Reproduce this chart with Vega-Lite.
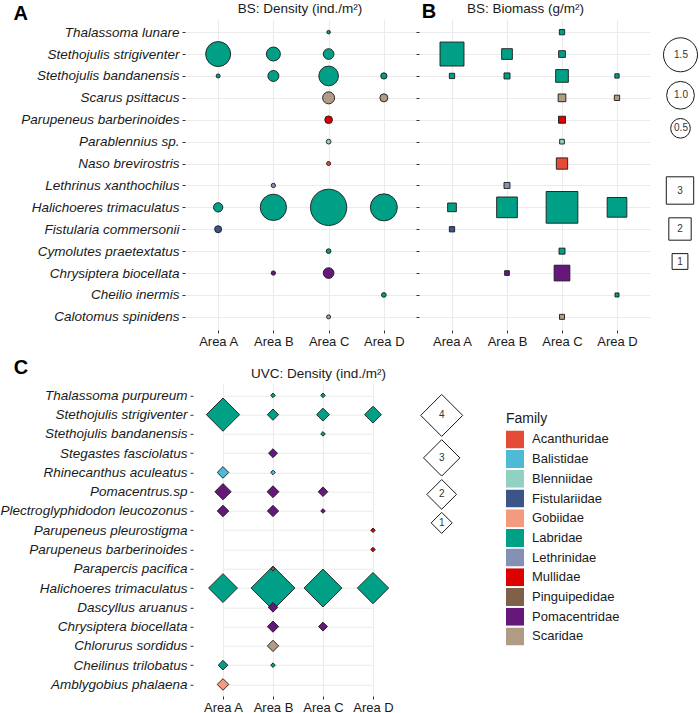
{
  "$schema": "https://vega.github.io/schema/vega-lite/v6.json",
  "padding": {"left": 0, "top": 1, "right": 0, "bottom": 0},
  "datasets": {
    "bsDensity": [
      {"Species": "Thalassoma lunare", "Area": "Area C", "Family": "Labridae", "Value": 0.016},
      {"Species": "Stethojulis strigiventer", "Area": "Area A", "Family": "Labridae", "Value": 0.81},
      {"Species": "Stethojulis strigiventer", "Area": "Area B", "Family": "Labridae", "Value": 0.254},
      {"Species": "Stethojulis strigiventer", "Area": "Area C", "Family": "Labridae", "Value": 0.148},
      {"Species": "Stethojulis bandanensis", "Area": "Area A", "Family": "Labridae", "Value": 0.021},
      {"Species": "Stethojulis bandanensis", "Area": "Area B", "Family": "Labridae", "Value": 0.157},
      {"Species": "Stethojulis bandanensis", "Area": "Area C", "Family": "Labridae", "Value": 0.503},
      {"Species": "Stethojulis bandanensis", "Area": "Area D", "Family": "Labridae", "Value": 0.051},
      {"Species": "Scarus psittacus", "Area": "Area C", "Family": "Scaridae", "Value": 0.187},
      {"Species": "Scarus psittacus", "Area": "Area D", "Family": "Scaridae", "Value": 0.083},
      {"Species": "Parupeneus barberinoides", "Area": "Area C", "Family": "Mullidae", "Value": 0.077},
      {"Species": "Parablennius sp.", "Area": "Area C", "Family": "Blenniidae", "Value": 0.029},
      {"Species": "Naso brevirostris", "Area": "Area C", "Family": "Acanthuridae", "Value": 0.021},
      {"Species": "Lethrinus xanthochilus", "Area": "Area B", "Family": "Lethrinidae", "Value": 0.024},
      {"Species": "Halichoeres trimaculatus", "Area": "Area A", "Family": "Labridae", "Value": 0.112},
      {"Species": "Halichoeres trimaculatus", "Area": "Area B", "Family": "Labridae", "Value": 0.897},
      {"Species": "Halichoeres trimaculatus", "Area": "Area C", "Family": "Labridae", "Value": 1.709},
      {"Species": "Halichoeres trimaculatus", "Area": "Area D", "Family": "Labridae", "Value": 0.945},
      {"Species": "Fistularia commersonii", "Area": "Area A", "Family": "Fistulariidae", "Value": 0.064},
      {"Species": "Cymolutes praetextatus", "Area": "Area C", "Family": "Labridae", "Value": 0.029},
      {"Species": "Chrysiptera biocellata", "Area": "Area B", "Family": "Pomacentridae", "Value": 0.024},
      {"Species": "Chrysiptera biocellata", "Area": "Area C", "Family": "Pomacentridae", "Value": 0.148},
      {"Species": "Cheilio inermis", "Area": "Area D", "Family": "Labridae", "Value": 0.029},
      {"Species": "Calotomus spinidens", "Area": "Area C", "Family": "Scaridae", "Value": 0.021}
    ],
    "bsBiomass": [
      {"Species": "Thalassoma lunare", "Area": "Area C", "Family": "Labridae", "Value": 0.112},
      {"Species": "Stethojulis strigiventer", "Area": "Area A", "Family": "Labridae", "Value": 2.3},
      {"Species": "Stethojulis strigiventer", "Area": "Area B", "Family": "Labridae", "Value": 0.458},
      {"Species": "Stethojulis strigiventer", "Area": "Area C", "Family": "Labridae", "Value": 0.18},
      {"Species": "Stethojulis bandanensis", "Area": "Area A", "Family": "Labridae", "Value": 0.112},
      {"Species": "Stethojulis bandanensis", "Area": "Area B", "Family": "Labridae", "Value": 0.144},
      {"Species": "Stethojulis bandanensis", "Area": "Area C", "Family": "Labridae", "Value": 0.645},
      {"Species": "Stethojulis bandanensis", "Area": "Area D", "Family": "Labridae", "Value": 0.074},
      {"Species": "Scarus psittacus", "Area": "Area C", "Family": "Scaridae", "Value": 0.237},
      {"Species": "Scarus psittacus", "Area": "Area D", "Family": "Scaridae", "Value": 0.112},
      {"Species": "Parupeneus barberinoides", "Area": "Area C", "Family": "Mullidae", "Value": 0.196},
      {"Species": "Parablennius sp.", "Area": "Area C", "Family": "Blenniidae", "Value": 0.088},
      {"Species": "Naso brevirostris", "Area": "Area C", "Family": "Acanthuridae", "Value": 0.51},
      {"Species": "Lethrinus xanthochilus", "Area": "Area B", "Family": "Lethrinidae", "Value": 0.144},
      {"Species": "Halichoeres trimaculatus", "Area": "Area A", "Family": "Labridae", "Value": 0.303},
      {"Species": "Halichoeres trimaculatus", "Area": "Area B", "Family": "Labridae", "Value": 1.71},
      {"Species": "Halichoeres trimaculatus", "Area": "Area C", "Family": "Labridae", "Value": 4.02},
      {"Species": "Halichoeres trimaculatus", "Area": "Area D", "Family": "Labridae", "Value": 1.55},
      {"Species": "Fistularia commersonii", "Area": "Area A", "Family": "Fistulariidae", "Value": 0.112},
      {"Species": "Cymolutes praetextatus", "Area": "Area C", "Family": "Labridae", "Value": 0.144},
      {"Species": "Chrysiptera biocellata", "Area": "Area B", "Family": "Pomacentridae", "Value": 0.088},
      {"Species": "Chrysiptera biocellata", "Area": "Area C", "Family": "Pomacentridae", "Value": 0.986},
      {"Species": "Cheilio inermis", "Area": "Area D", "Family": "Labridae", "Value": 0.064},
      {"Species": "Calotomus spinidens", "Area": "Area C", "Family": "Scaridae", "Value": 0.1}
    ],
    "uvcDensity": [
      {"Species": "Thalassoma purpureum", "Area": "Area B", "Family": "Labridae", "Value": 0.048},
      {"Species": "Thalassoma purpureum", "Area": "Area C", "Family": "Labridae", "Value": 0.048},
      {"Species": "Stethojulis strigiventer", "Area": "Area A", "Family": "Labridae", "Value": 2.51},
      {"Species": "Stethojulis strigiventer", "Area": "Area B", "Family": "Labridae", "Value": 0.29},
      {"Species": "Stethojulis strigiventer", "Area": "Area C", "Family": "Labridae", "Value": 0.377},
      {"Species": "Stethojulis strigiventer", "Area": "Area D", "Family": "Labridae", "Value": 0.648},
      {"Species": "Stethojulis bandanensis", "Area": "Area C", "Family": "Labridae", "Value": 0.048},
      {"Species": "Stegastes fasciolatus", "Area": "Area B", "Family": "Pomacentridae", "Value": 0.18},
      {"Species": "Rhinecanthus aculeatus", "Area": "Area A", "Family": "Balistidae", "Value": 0.305},
      {"Species": "Rhinecanthus aculeatus", "Area": "Area B", "Family": "Balistidae", "Value": 0.048},
      {"Species": "Pomacentrus.sp", "Area": "Area A", "Family": "Pomacentridae", "Value": 0.6},
      {"Species": "Pomacentrus.sp", "Area": "Area B", "Family": "Pomacentridae", "Value": 0.321},
      {"Species": "Pomacentrus.sp", "Area": "Area C", "Family": "Pomacentridae", "Value": 0.209},
      {"Species": "Plectroglyphidodon leucozonus", "Area": "Area A", "Family": "Pomacentridae", "Value": 0.305},
      {"Species": "Plectroglyphidodon leucozonus", "Area": "Area B", "Family": "Pomacentridae", "Value": 0.29},
      {"Species": "Plectroglyphidodon leucozonus", "Area": "Area C", "Family": "Pomacentridae", "Value": 0.048},
      {"Species": "Parupeneus pleurostigma", "Area": "Area D", "Family": "Mullidae", "Value": 0.048},
      {"Species": "Parupeneus barberinoides", "Area": "Area D", "Family": "Mullidae", "Value": 0.048},
      {"Species": "Parapercis pacifica", "Area": "Area B", "Family": "Pinguipedidae", "Value": 0.048},
      {"Species": "Halichoeres trimaculatus", "Area": "Area A", "Family": "Labridae", "Value": 1.89},
      {"Species": "Halichoeres trimaculatus", "Area": "Area B", "Family": "Labridae", "Value": 4.37},
      {"Species": "Halichoeres trimaculatus", "Area": "Area C", "Family": "Labridae", "Value": 3.26},
      {"Species": "Halichoeres trimaculatus", "Area": "Area D", "Family": "Labridae", "Value": 2.22},
      {"Species": "Dascyllus aruanus", "Area": "Area B", "Family": "Pomacentridae", "Value": 0.209},
      {"Species": "Chrysiptera biocellata", "Area": "Area B", "Family": "Pomacentridae", "Value": 0.29},
      {"Species": "Chrysiptera biocellata", "Area": "Area C", "Family": "Pomacentridae", "Value": 0.18},
      {"Species": "Chlorurus sordidus", "Area": "Area B", "Family": "Scaridae", "Value": 0.29},
      {"Species": "Cheilinus trilobatus", "Area": "Area A", "Family": "Labridae", "Value": 0.209},
      {"Species": "Cheilinus trilobatus", "Area": "Area B", "Family": "Labridae", "Value": 0.048},
      {"Species": "Amblygobius phalaena", "Area": "Area A", "Family": "Gobiidae", "Value": 0.305}
    ]
  },
  "columns": 2,
  "align": "each",
  "center": true,
  "bounds": "flush",
  "spacing": {"row": 53.8, "column": 2},
  "resolve": {
    "scale": {"color": "independent", "size": "independent"},
    "legend": {"color": "independent", "size": "independent"}
  },
  "concat": [
    {
      "width": 232,
      "height": 311,
      "data": {"name": "bsDensity"},
      "mark": {"type": "point", "shape": "circle", "filled": true, "opacity": 1, "stroke": "#1a1a1a", "strokeWidth": 0.9},
      "encoding": {
        "x": {"field": "Area", "type": "nominal", "scale": {"type": "point", "padding": 0.6, "domain": ["Area A", "Area B", "Area C", "Area D"]},
          "axis": {"title": "BS: Density (ind./m²)", "titleX": 114.5, "titleY": -317.6, "titleAlign": "center", "titleBaseline": "alphabetic", "titleAngle": 0}},
        "y": {"field": "Species", "type": "nominal", "scale": {"type": "point", "padding": 0.6, "domain": ["Thalassoma lunare", "Stethojulis strigiventer", "Stethojulis bandanensis", "Scarus psittacus", "Parupeneus barberinoides", "Parablennius sp.", "Naso brevirostris", "Lethrinus xanthochilus", "Halichoeres trimaculatus", "Fistularia commersonii", "Cymolutes praetextatus", "Chrysiptera biocellata", "Cheilio inermis", "Calotomus spinidens"]},
          "axis": {"title": "A", "titleAngle": 0, "titleX": -172, "titleY": 0.6, "titleAlign": "left", "titleBaseline": "alphabetic", "titleFontSize": 20, "titleFontWeight": "bold", "titleColor": "#000000"}},
        "color": {"field": "Family", "type": "nominal", "scale": {"domain": ["Acanthuridae", "Balistidae", "Blenniidae", "Fistulariidae", "Gobiidae", "Labridae", "Lethrinidae", "Mullidae", "Pinguipedidae", "Pomacentridae", "Scaridae"], "range": ["#E64B35", "#4DBBD5", "#91D1C2", "#3C5488", "#F39B7F", "#00A087", "#8491B4", "#DC0000", "#7E6148", "#65187A", "#B09C85"]}, "legend": null},
        "size": {"field": "Value", "type": "quantitative", "scale": {"domain": [0, 2], "range": [0, 1542]},
          "legend": {"orient": "none", "legendX": 477.5, "legendY": 17.8, "title": null, "padding": 0, "values": [1.5, 1, 0.5], "format": ".1f", "symbolFillColor": "white", "symbolStrokeColor": "#1a1a1a", "symbolStrokeWidth": 1, "labelAlign": "center", "labelBaseline": "middle", "labelOffset": -17.5, "labelFontSize": 10, "labelColor": "#333333", "rowPadding": 4}},
        "order": {"field": "Value", "sort": "descending"}
      }
    },
    {
      "width": 231,
      "height": 311,
      "data": {"name": "bsBiomass"},
      "mark": {"type": "point", "shape": "square", "filled": true, "opacity": 1, "stroke": "#1a1a1a", "strokeWidth": 0.9},
      "encoding": {
        "x": {"field": "Area", "type": "nominal", "scale": {"type": "point", "padding": 0.6, "domain": ["Area A", "Area B", "Area C", "Area D"]},
          "axis": {"title": "BS: Biomass (g/m²)", "titleX": 106, "titleY": -317.6, "titleAlign": "center", "titleBaseline": "alphabetic", "titleAngle": 0}},
        "y": {"field": "Species", "type": "nominal", "scale": {"type": "point", "padding": 0.6, "domain": ["Thalassoma lunare", "Stethojulis strigiventer", "Stethojulis bandanensis", "Scarus psittacus", "Parupeneus barberinoides", "Parablennius sp.", "Naso brevirostris", "Lethrinus xanthochilus", "Halichoeres trimaculatus", "Fistularia commersonii", "Cymolutes praetextatus", "Chrysiptera biocellata", "Cheilio inermis", "Calotomus spinidens"]},
          "axis": {"labels": false, "title": "B", "titleAngle": 0, "titleX": 2.2, "titleY": -1.9, "titleAlign": "left", "titleBaseline": "alphabetic", "titleFontSize": 20, "titleFontWeight": "bold", "titleColor": "#000000"}},
        "color": {"field": "Family", "type": "nominal", "scale": {"domain": ["Acanthuridae", "Balistidae", "Blenniidae", "Fistulariidae", "Gobiidae", "Labridae", "Lethrinidae", "Mullidae", "Pinguipedidae", "Pomacentridae", "Scaridae"], "range": ["#E64B35", "#4DBBD5", "#91D1C2", "#3C5488", "#F39B7F", "#00A087", "#8491B4", "#DC0000", "#7E6148", "#65187A", "#B09C85"]}, "legend": null},
        "size": {"field": "Value", "type": "quantitative", "scale": {"domain": [0, 5], "range": [0, 1250]},
          "legend": {"orient": "none", "legendX": 246.5, "legendY": 157, "title": null, "padding": 0, "values": [3, 2, 1], "format": "d", "symbolFillColor": "white", "symbolStrokeColor": "#1a1a1a", "symbolStrokeWidth": 1, "labelAlign": "center", "labelBaseline": "middle", "labelOffset": -14.5, "labelFontSize": 10, "labelColor": "#333333", "rowPadding": 8}},
        "order": {"field": "Value", "sort": "descending"}
      }
    },
    {
      "width": 216,
      "height": 312.2,
      "data": {"name": "uvcDensity"},
      "mark": {"type": "point", "shape": "diamond", "filled": true, "opacity": 1, "stroke": "#1a1a1a", "strokeWidth": 0.9},
      "encoding": {
        "x": {"field": "Area", "type": "nominal", "scale": {"type": "point", "range": [30, 180], "padding": 0, "domain": ["Area A", "Area B", "Area C", "Area D"]},
          "axis": {"title": "UVC: Density (ind./m²)", "titleX": 125, "titleY": -318.9, "titleAlign": "center", "titleBaseline": "alphabetic", "titleAngle": 0}},
        "y": {"field": "Species", "type": "nominal", "scale": {"type": "point", "padding": 0.6, "domain": ["Thalassoma purpureum", "Stethojulis strigiventer", "Stethojulis bandanensis", "Stegastes fasciolatus", "Rhinecanthus aculeatus", "Pomacentrus.sp", "Plectroglyphidodon leucozonus", "Parupeneus pleurostigma", "Parupeneus barberinoides", "Parapercis pacifica", "Halichoeres trimaculatus", "Dascyllus aruanus", "Chrysiptera biocellata", "Chlorurus sordidus", "Cheilinus trilobatus", "Amblygobius phalaena"]},
          "axis": {"title": "C", "titleAngle": 0, "titleX": -179.7, "titleY": -10.8, "titleAlign": "left", "titleBaseline": "alphabetic", "titleFontSize": 20, "titleFontWeight": "bold", "titleColor": "#000000"}},
        "color": {"field": "Family", "type": "nominal", "scale": {"domain": ["Acanthuridae", "Balistidae", "Blenniidae", "Fistulariidae", "Gobiidae", "Labridae", "Lethrinidae", "Mullidae", "Pinguipedidae", "Pomacentridae", "Scaridae"], "range": ["#E64B35", "#4DBBD5", "#91D1C2", "#3C5488", "#F39B7F", "#00A087", "#8491B4", "#DC0000", "#7E6148", "#65187A", "#B09C85"]},
          "legend": {"orient": "none", "legendX": 313, "legendY": 28.6, "title": "Family", "padding": 0, "titleFontSize": 14, "titleFontWeight": "normal", "titleColor": "#1a1a1a", "titlePadding": 4, "symbolSize": 324, "symbolType": "square", "symbolStrokeWidth": 0, "clipHeight": 18, "labelFontSize": 13, "labelColor": "#1a1a1a", "labelOffset": 8, "rowPadding": 1.7,
            "encode": {"symbols": {"update": {"shape": {"value": "square"}, "stroke": {"value": "transparent"}, "strokeWidth": {"value": 0}}}}}},
        "size": {"field": "Value", "type": "quantitative", "scale": {"domain": [0, 5], "range": [0, 2205]},
          "legend": {"orient": "none", "legendX": 227.2, "legendY": 10.1, "title": null, "padding": 0, "values": [4, 3, 2, 1], "format": "d", "symbolFillColor": "white", "symbolStrokeColor": "#1a1a1a", "symbolStrokeWidth": 1, "labelAlign": "center", "labelBaseline": "middle", "labelOffset": -21.5, "labelFontSize": 10, "labelColor": "#333333", "rowPadding": -2}},
        "order": {"field": "Value", "sort": "descending"}
      }
    }
  ],
  "config": {
    "font": "Liberation Sans",
    "view": {"stroke": null},
    "axis": {"domain": false, "grid": true, "gridColor": "#EBEBEB", "gridWidth": 1.1, "ticks": true, "tickColor": "#333333", "tickSize": 3, "tickWidth": 1, "labelColor": "#1a1a1a", "labelFont": "Liberation Sans", "labelPadding": 2, "titleFont": "Liberation Sans", "titleFontSize": 13.5, "titleFontWeight": "normal", "titleColor": "#1a1a1a"},
    "axisX": {"labelFontSize": 13, "labelAngle": 0},
    "axisY": {"labelFontSize": 13.5, "labelFontStyle": "italic", "labelPadding": 3, "labelLimit": 300},
    "legend": {"labelFont": "Liberation Sans", "titleFont": "Liberation Sans"}
  }
}
